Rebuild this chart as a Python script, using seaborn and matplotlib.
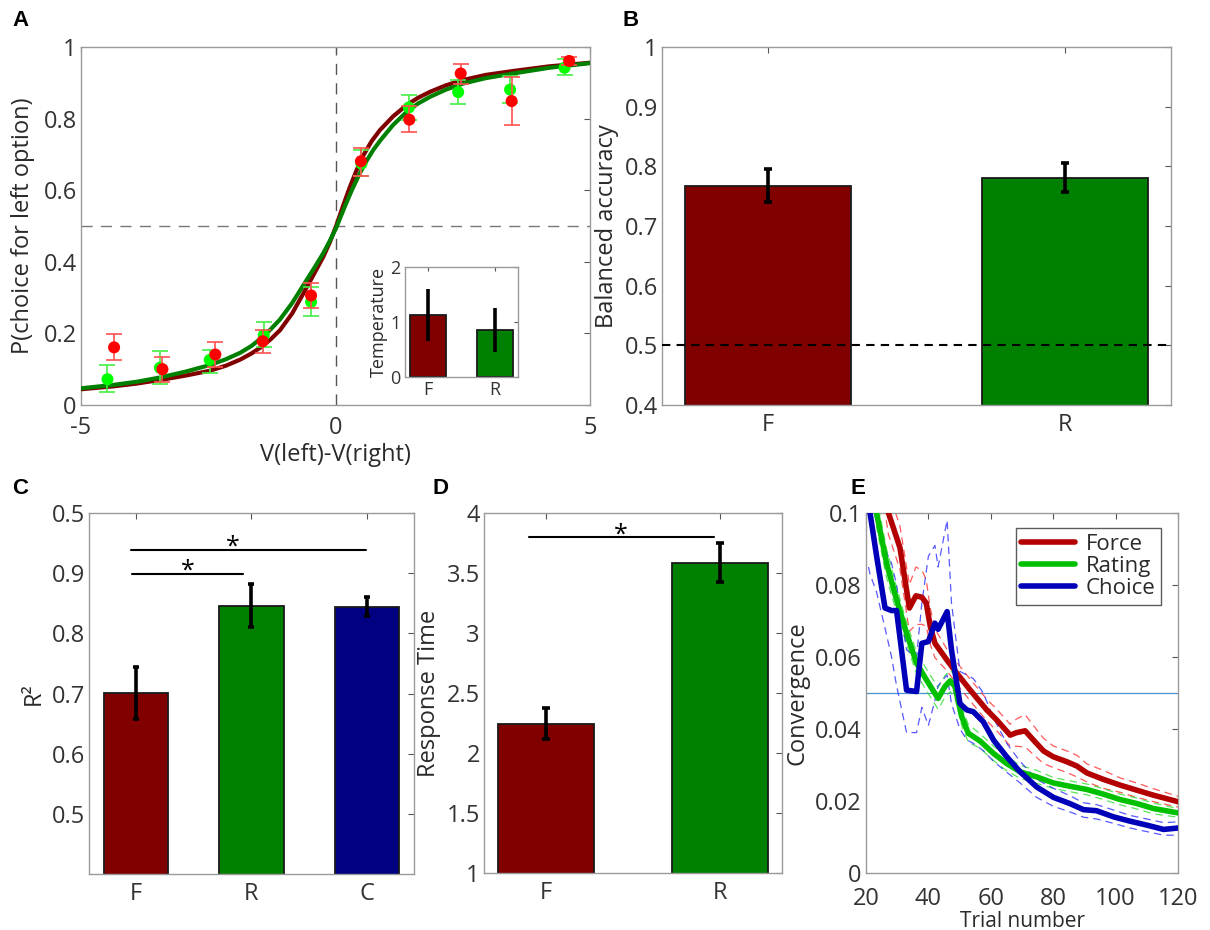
import numpy as np
import pandas as pd
import matplotlib
matplotlib.use("Agg")
import matplotlib.pyplot as plt
import seaborn as sns

# ---------------- data ----------------
# Panel A: choice points (Force = red, Rating = green)
a_red_x = [-4.35, -3.40, -2.36, -1.43, -0.48, 0.50, 1.45, 2.46, 3.46, 4.59]
a_red_y = [0.161, 0.100, 0.141, 0.178, 0.306, 0.681, 0.797, 0.926, 0.849, 0.961]
a_red_lo = [0.126, 0.065, 0.107, 0.146, 0.272, 0.640, 0.762, 0.898, 0.783, 0.949]
a_red_hi = [0.197, 0.135, 0.177, 0.209, 0.342, 0.718, 0.834, 0.953, 0.916, 0.972]
a_grn_x = [-4.48, -3.45, -2.47, -1.41, -0.48, 0.51, 1.44, 2.41, 3.43, 4.50]
a_grn_y = [0.072, 0.104, 0.126, 0.195, 0.288, 0.674, 0.831, 0.874, 0.881, 0.942]
a_grn_lo = [0.035, 0.058, 0.090, 0.163, 0.249, 0.639, 0.797, 0.842, 0.844, 0.921]
a_grn_hi = [0.112, 0.151, 0.155, 0.231, 0.330, 0.712, 0.867, 0.909, 0.918, 0.967]
# Panel A: fitted curves
fit_red_x = [-5.0, -4.37, -3.9, -3.44, -2.95, -2.46, -2.15, -1.87, -1.65, -1.45, -1.27,
             -1.09, -0.85, -0.63, -0.43, -0.24, -0.11, 0.02, 0.15, 0.285, 0.42, 0.55,
             0.71, 0.874, 1.13, 1.40, 1.62, 1.86, 2.17, 2.51, 2.95, 3.49, 4.2, 5.0]
fit_red_y = [0.044, 0.052, 0.060, 0.070, 0.082, 0.096, 0.110, 0.127, 0.144, 0.163, 0.184,
             0.209, 0.256, 0.312, 0.364, 0.414, 0.455, 0.503, 0.557, 0.610, 0.658, 0.698,
             0.737, 0.768, 0.806, 0.838, 0.858, 0.875, 0.893, 0.908, 0.922, 0.933, 0.946, 0.956]
fit_grn_x = [-5.0, -4.37, -3.9, -3.44, -2.95, -2.46, -2.15, -1.87, -1.65, -1.45, -1.27,
             -1.09, -0.85, -0.63, -0.43, -0.24, -0.11, 0.02, 0.17, 0.32, 0.47, 0.61,
             0.74, 0.874, 1.13, 1.40, 1.62, 1.86, 2.17, 2.51, 2.95, 3.49, 4.2, 5.0]
fit_grn_y = [0.0466, 0.056, 0.065, 0.077, 0.093, 0.112, 0.128, 0.146, 0.165, 0.188, 0.212,
             0.239, 0.285, 0.335, 0.380, 0.424, 0.459, 0.497, 0.550, 0.600, 0.645, 0.682,
             0.712, 0.738, 0.782, 0.819, 0.842, 0.861, 0.881, 0.898, 0.913, 0.926, 0.942, 0.955]
# Panel A inset: temperature
temp_labels = ["F", "R"]
temp_vals = [1.13, 0.85]
temp_lo = [0.655, 0.448]
temp_hi = [1.60, 1.26]

# Panel B: balanced accuracy
acc_labels = ["F", "R"]
acc_vals = [0.767, 0.781]
acc_lo = [0.740, 0.757]
acc_hi = [0.796, 0.806]

# Panel C: R^2
r2_labels = ["F", "R", "C"]
r2_vals = [0.701, 0.846, 0.844]
r2_lo = [0.657, 0.810, 0.828]
r2_hi = [0.744, 0.882, 0.860]
r2_tick_labels = ["0.5", "0.6", "0.7", "0.8", "0.9", "0.5"]

# Panel D: response time
rt_labels = ["F", "R"]
rt_vals = [2.244, 3.583]
rt_lo = [2.117, 3.422]
rt_hi = [2.375, 3.750]

# Panel E: convergence
force_x = [26.5, 27.2, 30.9, 33.9, 36.0, 37.9, 39.3, 40.6, 42.1, 45.9, 49.1, 53.4, 58.7,
           61.9, 66.2, 68.3, 71.0, 73.7, 76.9, 80.0, 84.4, 87.6, 90.8, 96.1, 101.5,
           106.8, 112.2, 120.0]
force_y = [0.104, 0.100, 0.0903, 0.0736, 0.0770, 0.0766, 0.0750, 0.0685, 0.0638, 0.0592,
           0.0555, 0.0508, 0.0453, 0.0425, 0.0383, 0.0390, 0.0395, 0.0369, 0.0339,
           0.0323, 0.0309, 0.0297, 0.0278, 0.0260, 0.0244, 0.0230, 0.0216, 0.0198]
force_hw = [0.006, 0.006, 0.006, 0.0065, 0.008, 0.0075, 0.0065, 0.005, 0.004, 0.003,
            0.003, 0.003, 0.003, 0.003, 0.003, 0.0038, 0.0045, 0.004, 0.0035, 0.003,
            0.003, 0.003, 0.0025, 0.0025, 0.002, 0.002, 0.0018, 0.0015]
rating_x = [22.8, 23.4, 26.6, 29.8, 33.0, 36.2, 39.4, 43.1, 45.3, 47.0, 48.5, 50.7, 52.8,
            56.5, 60.9, 65.1, 69.4, 74.7, 80.1, 85.3, 90.8, 96.1, 101.5, 106.8, 112.2,
            120.0]
rating_y = [0.104, 0.100, 0.0860, 0.0759, 0.0666, 0.0583, 0.0536, 0.0485, 0.0518, 0.0534,
            0.0518, 0.0434, 0.0388, 0.0367, 0.0332, 0.0304, 0.0281, 0.0267, 0.0250,
            0.0241, 0.0232, 0.0219, 0.0204, 0.0193, 0.0179, 0.0167]
rating_hw = [0.004, 0.004, 0.004, 0.0035, 0.003, 0.003, 0.003, 0.003, 0.003, 0.003,
             0.003, 0.0025, 0.0025, 0.002, 0.002, 0.002, 0.0018, 0.0018, 0.0015, 0.0015,
             0.0015, 0.0015, 0.0015, 0.0015, 0.0015, 0.0012]
choice_x = [20.8, 21.3, 23.4, 26.1, 28.2, 29.8, 33.0, 36.2, 37.9, 40.0, 42.1, 43.1, 46.0,
            47.4, 50.1, 52.3, 54.4, 57.6, 60.9, 65.1, 69.4, 74.7, 80.1, 85.3, 89.7,
            93.9, 99.3, 104.6, 110.0, 115.4, 120.0]
choice_y = [0.104, 0.100, 0.0880, 0.0736, 0.0729, 0.0729, 0.0508, 0.0504, 0.0638, 0.0643,
            0.0694, 0.0677, 0.0726, 0.0620, 0.0471, 0.0453, 0.0448, 0.0420, 0.0369,
            0.0323, 0.0281, 0.0239, 0.0210, 0.0193, 0.0176, 0.0173, 0.0156, 0.0144,
            0.0133, 0.0121, 0.0125]
choice_up = [0.110, 0.108, 0.097, 0.090, 0.086, 0.080, 0.062, 0.060, 0.075, 0.088,
             0.091, 0.085, 0.098, 0.075, 0.056, 0.055, 0.054, 0.050, 0.043, 0.036,
             0.031, 0.026, 0.0235, 0.0215, 0.0195, 0.019, 0.0175, 0.016, 0.015, 0.014,
             0.0142]
choice_lo = [0.085, 0.083, 0.078, 0.068, 0.060, 0.052, 0.039, 0.039, 0.046, 0.041,
             0.048, 0.052, 0.055, 0.047, 0.040, 0.037, 0.036, 0.034, 0.031, 0.028,
             0.025, 0.021, 0.0185, 0.017, 0.0155, 0.015, 0.0138, 0.0125, 0.0115,
             0.0105, 0.0105]
conv_threshold = 0.05

# ---------------- style ----------------
sns.set_theme(style="white")
plt.rcParams["font.family"] = ["Open Sans", "DejaVu Sans"]
plt.rcParams["axes.edgecolor"] = "#9a9a9a"
plt.rcParams["axes.linewidth"] = 1.0
plt.rcParams["xtick.color"] = "#333333"
plt.rcParams["ytick.color"] = "#333333"
plt.rcParams["text.color"] = "#2a2a2a"
plt.rcParams["axes.labelcolor"] = "#2a2a2a"

DARKRED = "#800000"
DARKGREEN = "#008000"
NAVY = "#000080"
FS = 17

fig = plt.figure(figsize=(12.1, 9.3), dpi=100)


def add_ax(l, t, r, b):
    return fig.add_axes([l / 1210, 1 - b / 930, (r - l) / 1210, (b - t) / 930])


def box_ticks(ax, size=FS, length=4, xpad=6):
    ax.tick_params(direction="in", top=True, right=True, length=length,
                   width=0.8, labelsize=size, color="#555555", pad=3)
    ax.tick_params(axis="x", pad=xpad)
    for s in ax.spines.values():
        s.set_visible(True)
        s.set_color("#9a9a9a")


def bars(ax, labels, vals, lo, hi, colors, width, capsize):
    df = pd.DataFrame({"cat": labels, "val": vals})
    sns.barplot(data=df, x="cat", y="val", hue="cat", palette=dict(zip(labels, colors)),
                width=width, edgecolor="#1a1a1a", linewidth=1.3, legend=False,
                ax=ax, saturation=1)
    yerr = [np.array(vals) - np.array(lo), np.array(hi) - np.array(vals)]
    ax.errorbar(np.arange(len(labels)), vals, yerr=yerr, fmt="none", ecolor="black",
                elinewidth=2.6, capsize=capsize, capthick=2.6, zorder=5)
    ax.set_xlabel("")


# ---------------- Panel A ----------------
axA = add_ax(81, 47, 590, 405)
axA.axvline(0, color="#555555", lw=1.0, ls=(0, (8, 6)), zorder=1)
axA.axhline(0.5, color="#777777", lw=1.0, ls=(0, (8, 6)), zorder=1)
sns.lineplot(x=fit_red_x, y=fit_red_y, color=DARKRED, lw=3, ax=axA, zorder=3)
sns.lineplot(x=fit_grn_x, y=fit_grn_y, color=DARKGREEN, lw=3, ax=axA, zorder=3)
axA.errorbar(a_grn_x, a_grn_y,
             yerr=[np.array(a_grn_y) - np.array(a_grn_lo), np.array(a_grn_hi) - np.array(a_grn_y)],
             fmt="none", ecolor="#44ee44", elinewidth=1.2, capsize=6, capthick=1.2, zorder=4)
sns.scatterplot(x=a_grn_x, y=a_grn_y, color="#00ff00", s=75, edgecolor="none", ax=axA, zorder=5)
axA.errorbar(a_red_x, a_red_y,
             yerr=[np.array(a_red_y) - np.array(a_red_lo), np.array(a_red_hi) - np.array(a_red_y)],
             fmt="none", ecolor="#ff5050", elinewidth=1.2, capsize=6, capthick=1.2, zorder=6)
sns.scatterplot(x=a_red_x, y=a_red_y, color="#ff0000", s=75, edgecolor="none", ax=axA, zorder=7)
axA.set_xlim(-5, 5)
axA.set_ylim(0, 1)
axA.set_xticks([-5, 0, 5])
axA.set_xticklabels(["-5", "0", "5"])
axA.set_yticks([0, 0.2, 0.4, 0.6, 0.8, 1.0])
axA.set_yticklabels(["0", "0.2", "0.4", "0.6", "0.8", "1"])
box_ticks(axA, xpad=8)
axA.set_xlabel("V(left)-V(right)", fontsize=FS, labelpad=2)
axA.set_ylabel("P(choice for left option)", fontsize=FS, labelpad=6)

# inset
axI = add_ax(405, 267, 518, 377)
bars(axI, temp_labels, temp_vals, temp_lo, temp_hi, [DARKRED, DARKGREEN], 0.53, 0)
axI.set_ylim(0, 2)
axI.set_yticks([0, 1, 2])
axI.set_yticklabels(["0", "1", "2"])
box_ticks(axI, size=13, length=3, xpad=3)
axI.set_ylabel("Temperature", fontsize=13, labelpad=2)

# ---------------- Panel B ----------------
axB = add_ax(662, 47, 1171, 405)
bars(axB, acc_labels, acc_vals, acc_lo, acc_hi, [DARKRED, DARKGREEN], 0.56, 3)
axB.axhline(0.5, color="black", lw=1.5, ls=(0, (4, 3)), zorder=6)
axB.set_ylim(0.4, 1.0)
axB.set_yticks([0.4, 0.5, 0.6, 0.7, 0.8, 0.9, 1.0])
axB.set_yticklabels(["0.4", "0.5", "0.6", "0.7", "0.8", "0.9", "1"])
box_ticks(axB)
axB.set_ylabel("Balanced accuracy", fontsize=FS, labelpad=4)

# ---------------- Panel C ----------------
axC = add_ax(89, 513, 414, 874)
bars(axC, r2_labels, r2_vals, r2_lo, r2_hi, [DARKRED, DARKGREEN, NAVY], 0.556, 2)
axC.set_ylim(0.4, 1.0)
axC.set_yticks([0.5, 0.6, 0.7, 0.8, 0.9, 1.0])
axC.set_yticklabels(r2_tick_labels)
box_ticks(axC)
axC.set_ylabel("R²", fontsize=FS, labelpad=4)
axC.plot([-0.04, 1.99], [0.938, 0.938], color="black", lw=1.5)
axC.plot([-0.03, 0.93], [0.899, 0.899], color="black", lw=1.5)
axC.text(0.836, 0.943, "*", ha="center", va="center", fontsize=18, color="black")
axC.text(0.446, 0.904, "*", ha="center", va="center", fontsize=18, color="black")

# ---------------- Panel D ----------------
axD = add_ax(484, 513, 782, 873)
bars(axD, rt_labels, rt_vals, rt_lo, rt_hi, [DARKRED, DARKGREEN], 0.556, 3)
axD.set_ylim(1, 4)
axD.set_yticks([1, 1.5, 2, 2.5, 3, 3.5, 4])
axD.set_yticklabels(["1", "1.5", "2", "2.5", "3", "3.5", "4"])
box_ticks(axD)
axD.set_ylabel("Response Time", fontsize=FS, labelpad=4)
axD.plot([-0.097, 0.964], [3.797, 3.797], color="black", lw=1.5)
axD.text(0.43, 3.82, "*", ha="center", va="center", fontsize=18, color="black")

# ---------------- Panel E ----------------
axE = add_ax(866, 513, 1178, 873)
axE.axhline(conv_threshold, color="#4a8fd0", lw=0.9, zorder=1)
fx, fy, fh = np.array(force_x), np.array(force_y), np.array(force_hw)
rx, ry, rh = np.array(rating_x), np.array(rating_y), np.array(rating_hw)
for xx, yy, col in [(fx, fy + fh, "#ff3030"), (fx, fy - fh, "#ff3030"),
                    (rx, ry + rh, "#30e030"), (rx, ry - rh, "#30e030"),
                    (choice_x, choice_up, "#3030ff"), (choice_x, choice_lo, "#3030ff")]:
    sns.lineplot(x=xx, y=yy, color=col, lw=0.9, ax=axE, alpha=0.8,
                 linestyle=(0, (6, 4)), zorder=2)
sns.lineplot(x=force_x, y=force_y, color="#b30000", lw=4, ax=axE, label="Force", zorder=4)
sns.lineplot(x=rating_x, y=rating_y, color="#00c000", lw=4, ax=axE, label="Rating", zorder=4)
sns.lineplot(x=choice_x, y=choice_y, color="#0000b8", lw=4, ax=axE, label="Choice", zorder=4)
axE.set_xlim(20, 120)
axE.set_ylim(0, 0.1)
axE.set_xticks([20, 40, 60, 80, 100, 120])
axE.set_yticks([0, 0.02, 0.04, 0.06, 0.08, 0.1])
axE.set_yticklabels(["0", "0.02", "0.04", "0.06", "0.08", "0.1"])
box_ticks(axE, xpad=10)
axE.set_xlabel("Trial number", fontsize=15, labelpad=0)
axE.set_ylabel("Convergence", fontsize=FS, labelpad=4)
leg = axE.legend(loc="upper right", bbox_to_anchor=(0.96, 0.97), fontsize=16,
                 handlelength=2.4, frameon=True, fancybox=False, borderpad=0.25,
                 labelspacing=0.05, handletextpad=0.5, borderaxespad=0.2)
leg.get_frame().set_edgecolor("#333333")
leg.get_frame().set_linewidth(1.0)

# ---------------- panel letters ----------------
for lbl, x, y in [("A", 12, 20), ("B", 622, 20), ("C", 12, 488), ("D", 432, 488),
                  ("E", 850, 488)]:
    fig.text(x / 1210, 1 - y / 930, lbl, fontsize=16, fontweight="bold",
             family="Liberation Sans", color="black", va="center", ha="left")

fig.savefig("out.png", dpi=100)
